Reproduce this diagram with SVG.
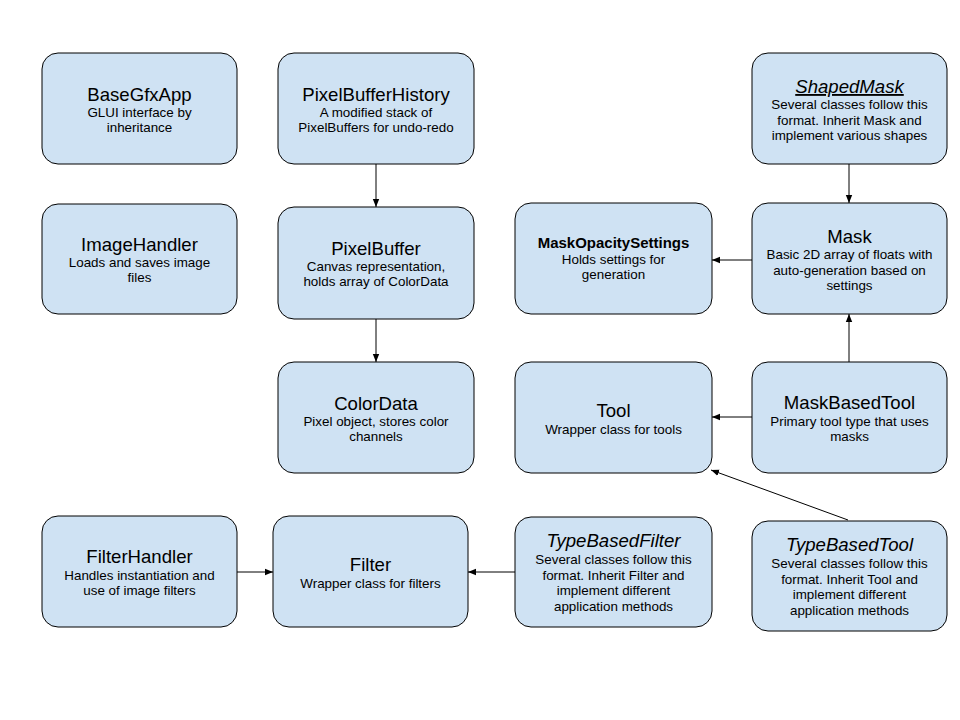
<svg xmlns="http://www.w3.org/2000/svg" width="960" height="720" viewBox="0 0 960 720">
<style>
.box{fill:#cfe2f3;stroke:#000;stroke-width:1}
.t{font-family:"Liberation Sans",Arial,sans-serif;font-size:18.6px;text-anchor:middle;fill:#000}
.s{font-family:"Liberation Sans",Arial,sans-serif;font-size:13.4px;text-anchor:middle;fill:#000}
.b{font-weight:bold;font-size:15px}
.i{font-style:italic}
.u{text-decoration:underline}
.c{stroke:#000;stroke-width:1;fill:none;marker-end:url(#ah)}
</style>
<defs>
<marker id="ah" viewBox="0 0 10 10" refX="10" refY="5" markerWidth="8" markerHeight="8" markerUnits="userSpaceOnUse" orient="auto">
<path d="M0,1 L10,5 L0,9 z" fill="#000"/>
</marker>
</defs>
<rect width="960" height="720" fill="#fff"/>
<g id="connectors">
<line class="c" x1="376" y1="164" x2="376" y2="207"/>
<line class="c" x1="376" y1="319" x2="376" y2="362"/>
<line class="c" x1="849" y1="164" x2="849" y2="203"/>
<line class="c" x1="752" y1="260" x2="712" y2="260"/>
<line class="c" x1="849" y1="362" x2="849" y2="314"/>
<line class="c" x1="752" y1="417" x2="712" y2="417"/>
<line class="c" x1="848" y1="520" x2="711" y2="470"/>
<line class="c" x1="237" y1="572" x2="273" y2="572"/>
<line class="c" x1="515" y1="572" x2="468" y2="572"/>
</g>
<g id="BaseGfxApp">
<rect class="box" x="42" y="53" width="195" height="111" rx="16"/>
<text class="t" x="139.5" y="101">BaseGfxApp</text>
<text class="s" x="139.5" y="117">GLUI interface by</text>
<text class="s" x="139.5" y="132">inheritance</text>
</g>
<g id="PixelBufferHistory">
<rect class="box" x="278" y="53" width="196" height="111" rx="16"/>
<text class="t" x="376" y="101">PixelBufferHistory</text>
<text class="s" x="376" y="117">A modified stack of</text>
<text class="s" x="376" y="132">PixelBuffers for undo-redo</text>
</g>
<g id="ShapedMask">
<rect class="box" x="752" y="53" width="195" height="111" rx="16"/>
<text class="t i u" x="849.5" y="93">ShapedMask</text>
<text class="s" x="849.5" y="109">Several classes follow this</text>
<text class="s" x="849.5" y="124.5">format. Inherit Mask and</text>
<text class="s" x="849.5" y="140">implement various shapes</text>
</g>
<g id="ImageHandler">
<rect class="box" x="42" y="204" width="195" height="110" rx="16"/>
<text class="t" x="139.5" y="251">ImageHandler</text>
<text class="s" x="139.5" y="267">Loads and saves image</text>
<text class="s" x="139.5" y="282">files</text>
</g>
<g id="PixelBuffer">
<rect class="box" x="278" y="207" width="196" height="112" rx="16"/>
<text class="t" x="376" y="255">PixelBuffer</text>
<text class="s" x="376" y="271">Canvas representation,</text>
<text class="s" x="376" y="286">holds array of ColorData</text>
</g>
<g id="MaskOpacitySettings">
<rect class="box" x="515" y="203" width="197" height="111" rx="16"/>
<text class="t b" x="613.5" y="248">MaskOpacitySettings</text>
<text class="s" x="613.5" y="264">Holds settings for</text>
<text class="s" x="613.5" y="279">generation</text>
</g>
<g id="Mask">
<rect class="box" x="752" y="203" width="195" height="111" rx="16"/>
<text class="t" x="849.5" y="243">Mask</text>
<text class="s" x="849.5" y="259">Basic 2D array of floats with</text>
<text class="s" x="849.5" y="274.5">auto-generation based on</text>
<text class="s" x="849.5" y="290">settings</text>
</g>
<g id="ColorData">
<rect class="box" x="278" y="362" width="196" height="111" rx="16"/>
<text class="t" x="376" y="410">ColorData</text>
<text class="s" x="376" y="426">Pixel object, stores color</text>
<text class="s" x="376" y="441">channels</text>
</g>
<g id="Tool">
<rect class="box" x="515" y="362" width="197" height="111" rx="16"/>
<text class="t" x="613.5" y="417">Tool</text>
<text class="s" x="613.5" y="434">Wrapper class for tools</text>
</g>
<g id="MaskBasedTool">
<rect class="box" x="752" y="362" width="195" height="111" rx="16"/>
<text class="t" x="849.5" y="409">MaskBasedTool</text>
<text class="s" x="849.5" y="426">Primary tool type that uses</text>
<text class="s" x="849.5" y="441">masks</text>
</g>
<g id="FilterHandler">
<rect class="box" x="42" y="516" width="195" height="111" rx="16"/>
<text class="t" x="139.5" y="563">FilterHandler</text>
<text class="s" x="139.5" y="580">Handles instantiation and</text>
<text class="s" x="139.5" y="595">use of image filters</text>
</g>
<g id="Filter">
<rect class="box" x="273" y="516" width="195" height="111" rx="16"/>
<text class="t" x="370.5" y="571">Filter</text>
<text class="s" x="370.5" y="588">Wrapper class for filters</text>
</g>
<g id="TypeBasedFilter">
<rect class="box" x="515" y="517" width="197" height="110" rx="16"/>
<text class="t i" x="613.5" y="547">TypeBasedFilter</text>
<text class="s" x="613.5" y="564">Several classes follow this</text>
<text class="s" x="613.5" y="579.5">format. Inherit Filter and</text>
<text class="s" x="613.5" y="595">implement different</text>
<text class="s" x="613.5" y="610.5">application methods</text>
</g>
<g id="TypeBasedTool">
<rect class="box" x="752" y="521" width="195" height="110" rx="16"/>
<text class="t i" x="849.5" y="551">TypeBasedTool</text>
<text class="s" x="849.5" y="568">Several classes follow this</text>
<text class="s" x="849.5" y="583.5">format. Inherit Tool and</text>
<text class="s" x="849.5" y="599">implement different</text>
<text class="s" x="849.5" y="614.5">application methods</text>
</g>
</svg>
